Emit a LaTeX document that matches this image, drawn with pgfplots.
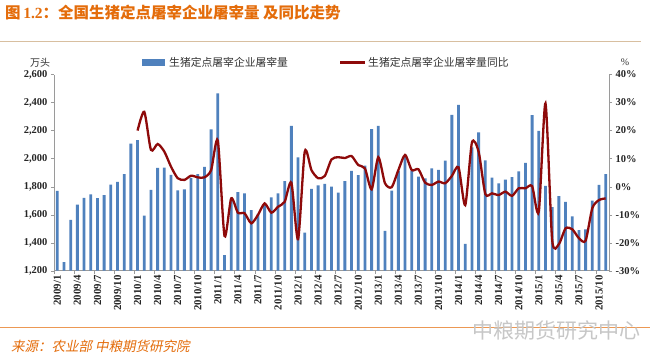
\documentclass[border=0pt]{standalone}
\usepackage{fontspec}
\setmainfont{Liberation Serif}
\newfontfamily\cjk{Noto Sans CJK SC}
\newfontfamily\cjkit{Noto Sans CJK SC}[FakeSlant=0.2]
\usepackage{pgfplots}
\usepackage{pgfplotstable}
\pgfplotsset{compat=1.18}
\definecolor{barblue}{HTML}{4F81BD}
\definecolor{linered}{HTML}{8E0A0A}
\definecolor{titleor}{HTML}{E46C0A}
\definecolor{ruletan}{HTML}{D8BFA0}
\definecolor{axgray}{HTML}{9A9A9A}

\pgfplotstableread{
i v
0 1770
1 1262
2 1562
3 1671
4 1719
5 1745
6 1717
7 1740
8 1814
9 1833
10 1890
11 2107
12 2131
13 1593
14 1776
15 1933
16 1936
17 1883
18 1774
19 1781
20 1862
21 1890
22 1941
23 2209
24 2465
25 1312
26 1700
27 1760
28 1752
29 1632
30 1605
31 1675
32 1724
33 1752
34 1840
35 2233
36 2009
37 1472
38 1783
39 1808
40 1820
41 1800
42 1757
43 1840
44 1913
45 1882
46 1950
47 2210
48 2233
49 1485
50 1772
51 1912
52 2015
53 1915
54 1871
55 1858
56 1931
57 1919
58 1985
59 2312
60 2383
61 1391
62 2080
63 2187
64 1988
65 1865
66 1824
67 1850
68 1867
69 1908
70 1969
71 2310
72 2198
73 1805
74 1654
75 1733
76 1691
77 1588
78 1490
79 1495
80 1700
81 1812
82 1889
}\barsdata

\pgfplotstableread{
i p
12 20.0
13 26.7
14 13.1
15 15.2
16 12.5
17 7.1
18 3.0
19 2.4
20 3.9
21 3.3
22 3.3
23 5.9
24 16.4
25 -17.6
26 -4.2
27 -9.3
28 -9.5
29 -13.1
30 -10.1
31 -6.0
32 -9.3
33 -7.2
34 -5.4
35 1.4
36 -18.8
37 12.5
38 5.9
39 3.0
40 3.8
41 9.7
42 10.5
43 10.2
44 10.9
45 7.7
46 6.5
47 -1.0
48 10.5
49 1.2
50 -0.2
51 5.9
52 11.3
53 5.9
54 6.2
55 1.4
56 0.6
57 1.8
58 1.2
59 3.8
60 6.9
61 -6.6
62 15.7
63 12.5
64 -2.6
65 -2.4
66 -3.0
67 -1.8
68 -3.3
69 -0.6
70 -0.6
71 0.2
72 -8.9
73 29.7
74 -19.0
75 -20.5
76 -14.9
77 -15.2
78 -18.4
79 -19.3
80 -7.7
81 -4.8
82 -4.2
}\yoydata

\begin{document}
\begin{tikzpicture}[x=1pt,y=1pt]
\path[use as bounding box, fill=white] (0,0) rectangle (661,357);
% title
\node[anchor=west, text=titleor, inner sep=0pt] at (5,344)
  {\fontsize{15.5}{15.5}\selectfont\bfseries\cjk 图\,{\rmfamily 1.2}：全国生猪定点屠宰企业屠宰量\ 及同比走势};
\draw[ruletan, line width=1.2pt] (0,315.5) -- (641,315.5);
% legend
\fill[barblue] (142,291.5) rectangle (165,297.5);
\node[anchor=west, inner sep=0pt, text=black!80] at (169,294.5)
  {\fontsize{10.8}{10.8}\selectfont\cjk 生猪定点屠宰企业屠宰量};
\draw[linered, line width=2.4pt] (340,294.5) -- (365,294.5);
\node[anchor=west, inner sep=0pt, text=black!80] at (368,294.5)
  {\fontsize{10.8}{10.8}\selectfont\cjk 生猪定点屠宰企业屠宰量同比};
\node[inner sep=0pt, text=black!80] at (40,294.5) {\fontsize{10}{10}\selectfont\cjk 万头};
\node[inner sep=0pt, text=black!80] at (625,295) {\fontsize{10}{10}\selectfont \%};

\begin{axis}[
  at={(54pt,86.3pt)}, anchor=south west, scale only axis,
  width=555pt, height=196.2pt,
  xmin=-0.5, xmax=82.5, ymin=1200, ymax=2600,
  axis y line*=left, axis x line*=bottom,
  axis line style={draw=axgray, line width=0.6pt},
  ytick={1200,1400,...,2600},
  xtick={0,3,...,81},
  xticklabels={2009/1,2009/4,2009/7,2009/10,2010/1,2010/4,2010/7,2010/10,2011/1,2011/4,2011/7,2011/10,2012/1,2012/4,2012/7,2012/10,2013/1,2013/4,2013/7,2013/10,2014/1,2014/4,2014/7,2014/10,2015/1,2015/4,2015/7,2015/10},
  minor xtick={-0.5,2.5,...,82.5},
  major x tick style={draw=none},
  minor x tick style={draw=axgray},
  minor tick length=3pt,
  ytick style={draw=axgray},
  tick align=outside, major tick length=3pt,
  x tick label style={rotate=90, anchor=east, font=\fontsize{10.8}{10.8}\selectfont\bfseries, text=black!85, inner sep=1.5pt},
  y tick label style={font=\fontsize{10.5}{10.5}\selectfont\bfseries, text=black!85},
  /pgf/number format/.cd, 1000 sep={,}, assume math mode=true,
]
\addplot[ybar, bar width=0.42, fill=barblue, draw=none] table[x=i,y=v]{\barsdata};
\end{axis}

\begin{axis}[
  at={(54pt,86.3pt)}, anchor=south west, scale only axis,
  width=555pt, height=196.2pt,
  xmin=-0.5, xmax=82.5, ymin=-30, ymax=40,
  axis y line*=right, axis x line=none,
  axis line style={draw=axgray, line width=0.6pt},
  ytick={-30,-20,...,40},
  ytick style={draw=axgray},
  tick align=outside, major tick length=3pt,
  yticklabel={\pgfmathprintnumber{\tick}\%},
  y tick label style={font=\fontsize{10.5}{10.5}\selectfont\bfseries, text=black!85},
  /pgf/number format/.cd, assume math mode=true,
]
\addplot[smooth, tension=0.42, line width=2.3pt, color=linered, no marks] table[x=i,y=p]{\yoydata};
\end{axis}

\draw[titleor!70, line width=1pt] (0,30) -- (650,30);
\node[anchor=west, inner sep=0pt, text=titleor] at (11,11)
  {\fontsize{13.5}{13.5}\selectfont\cjkit 来源：农业部\ 中粮期货研究院};
\node[anchor=west, inner sep=0pt, text=black!22] at (472,27)
  {\fontsize{21}{21}\selectfont\cjk 中粮期货研究中心};
\end{tikzpicture}
\end{document}
